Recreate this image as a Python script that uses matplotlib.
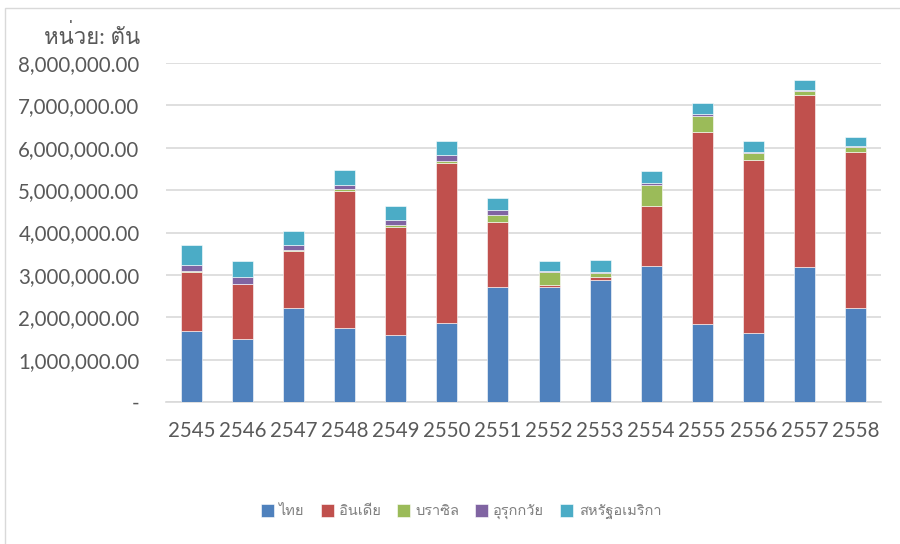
import numpy as np
import matplotlib.pyplot as plt
from matplotlib import font_manager
from matplotlib.ft2font import FT2Font
from matplotlib.patches import Rectangle

years = ['2545', '2546', '2547', '2548', '2549', '2550', '2551',
         '2552', '2553', '2554', '2555', '2556', '2557', '2558']
series = ['ไทย', 'อินเดีย', 'บราซิล', 'อุรุกกวัย', 'สหรัฐอเมริกา']

# tons
thai = [1680000, 1490000, 2210000, 1750000, 1570000, 1870000, 2720000,
        2710000, 2890000, 3220000, 1830000, 1630000, 3180000, 2230000]
india = [1390000, 1290000, 1360000, 3230000, 2560000, 3770000, 1530000,
         60000, 50000, 1400000, 4550000, 4090000, 4070000, 3670000]
brazil = [30000, 10000, 10000, 40000, 40000, 40000, 170000,
          290000, 110000, 500000, 370000, 150000, 80000, 110000]
uruguay = [140000, 150000, 120000, 110000, 130000, 150000, 120000,
           40000, 20000, 40000, 40000, 30000, 40000, 20000]
usa = [460000, 390000, 330000, 340000, 320000, 330000, 270000,
       220000, 280000, 290000, 260000, 270000, 220000, 220000]

colors = ['#4F81BD', '#C0504D', '#9BBB59', '#8064A2', '#4BACC6']


# find something that can draw Thai
def thai_font():
    for f in font_manager.fontManager.ttflist:
        try:
            if FT2Font(f.fname).get_char_index(ord('ท')):
                return f.name
        except Exception:
            pass
    return None


tf = thai_font()
fams = ['Lato'] + ([tf] if tf else []) + ['DejaVu Sans']
plt.rcParams['font.family'] = fams

fig = plt.figure(figsize=(9, 5.44), dpi=100)
ax = fig.add_axes([166 / 900, 1 - 402 / 544, 715 / 900, 339 / 544])

x = np.arange(len(years))
bottom = np.zeros(len(years))
for name, vals, c in zip(series, [thai, india, brazil, uruguay, usa], colors):
    ax.bar(x, vals, 0.41, bottom=bottom, color=c, label=name,
           edgecolor='white', linewidth=0.4, zorder=3)
    bottom += np.array(vals)

ax.set_xlim(-0.5, len(years) - 0.5)
ax.set_ylim(0, 8000000)
ax.set_yticks(np.arange(0, 8000001, 1000000))
ax.set_yticklabels(['-'] + ['{:,.2f}'.format(v) for v in np.arange(1000000, 8000001, 1000000)])
ax.set_xticks(x)
ax.set_xticklabels(years)
ax.tick_params(axis='both', length=0, labelsize=14.8, colors='#595959')
ax.tick_params(axis='y', pad=19)
ax.tick_params(axis='x', pad=14)
ax.grid(axis='y', color='#d9d9d9', linewidth=1.2, zorder=0)
for s in ['top', 'right', 'left']:
    ax.spines[s].set_visible(False)
ax.spines['bottom'].set_color('#d9d9d9')
ax.spines['bottom'].set_linewidth(1.2)

fig.text(44 / 900, 1 - 36 / 544, 'หน่วย: ตัน', fontsize=16, color='#595959', va='center')

fig.legend(loc='center', bbox_to_anchor=(461 / 900, 1 - 512 / 544), ncol=5,
           frameon=False, fontsize=10.5, labelcolor='#7f7f7f',
           handlelength=0.9, handleheight=0.9, handletextpad=0.35, columnspacing=1.1)

fig.patches.append(Rectangle((5 / 900, -0.1), 1.2, 1 - 8 / 544 + 0.1, transform=fig.transFigure,
                             fill=False, edgecolor='#d9d9d9', linewidth=1))

fig.savefig('out.png', dpi=100)
